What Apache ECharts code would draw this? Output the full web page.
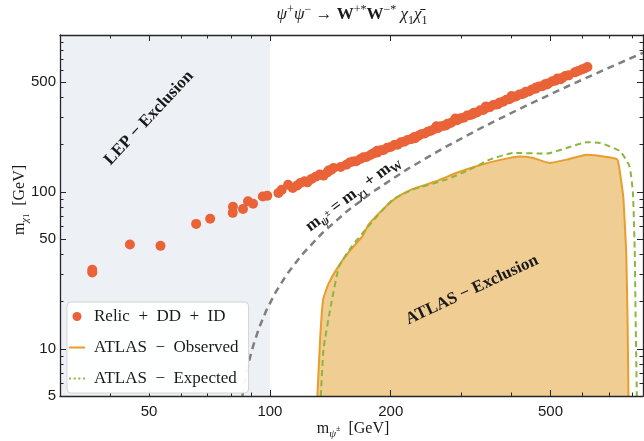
<!DOCTYPE html>
<html>
<head>
<meta charset="utf-8">
<script src="https://cdn.jsdelivr.net/npm/echarts@6/dist/echarts.min.js"></script>
<style>html,body{margin:0;padding:0;background:#fff}#chart{width:644px;height:441px}</style>
</head>
<body>
<div id="chart"></div>
<script>
// 坐标轴范围（GeV，对数轴）
const xRange = [30, 850];
const yRange = [5, 1000];
const lepRange = [30, 100];
const xMajor = [50, 100, 200, 500];
const xMinor = [40, 60, 70, 80, 90, 300, 400, 600, 700, 800];
const yMajor = [5, 10, 50, 100, 500];
const yMinor = [6, 7, 8, 9, 20, 30, 40, 60, 70, 80, 90, 200, 300, 400, 600, 700, 800, 900];

// Relic + DD + ID 散点 [m_psi, m_chi]
const relicPoints = [
  [36.1, 31.9], [36.1, 30.6], [44.8, 46.2], [53.4, 45.3], [65.5, 62.5], [71, 67.5],
  [80.8, 73.5], [80.9, 80.5], [85.7, 77.8], [88.2, 87], [90.8, 84], [96, 93.5], [98.5, 94.5],
  [105, 98.5], [107, 103], [111, 111], [114, 106], [117, 110], [119, 114], [122, 117],
  [124, 115], [127, 121], [130, 125], [133, 129], [136, 127], [139, 133], [140, 137],
  [142, 138], [144, 142], [150, 144], [155, 149], [158, 154], [161, 156], [164, 157],
  [168, 162], [171, 166], [174, 167], [178, 172], [181, 176], [185, 178], [185, 183],
  [189, 184], [192, 185], [196, 191], [200, 193], [204, 199], [208, 200], [212, 207],
  [216, 209], [220, 214], [225, 217], [229, 224], [230, 220], [234, 227], [238, 233],
  [243, 236], [248, 243], [252, 245], [257, 252], [260, 262], [262, 255], [267, 262],
  [272, 264], [275, 266], [277, 272], [282, 275], [288, 284], [290, 294], [293, 286],
  [299, 295], [304, 297], [310, 307], [316, 309], [320, 313], [322, 319], [328, 321],
  [334, 331], [340, 333], [345, 350], [347, 344], [353, 347], [360, 358], [367, 361],
  [370, 362], [374, 372], [381, 375], [388, 387], [395, 390], [400, 408], [403, 402],
  [410, 405], [418, 418], [426, 421], [430, 425], [434, 434], [442, 437], [450, 450],
  [459, 454], [460, 463], [468, 469], [477, 472], [486, 488], [490, 484], [495, 492],
  [505, 507], [514, 511], [520, 528], [524, 527], [530, 522], [534, 532], [544, 548],
  [555, 553], [575, 578], [586, 590], [598, 603], [608, 612], [618, 625]
];

// ATLAS 观测 / 预期 排除边界
const observed = [
  [131.3, 5], [133.5, 12], [135.7, 20.6], [140, 26], [147.3, 32.8], [158, 42], [170.1, 52.2],
  [176.1, 61.9], [190.9, 77.1], [206.2, 91.6], [226.9, 104.5], [259.4, 116.8], [291, 132],
  [336, 149], [375, 160], [419, 168], [450, 165], [498.3, 152.9], [548.7, 160.6],
  [615.6, 172.7], [690, 167.1], [734, 160.6], [753, 108.6], [760, 89.3], [772, 40.9],
  [778, 15], [782, 5]
];
const expected = [
  [133.9, 5], [136, 10], [141.8, 18.7], [148.8, 33.6], [160, 45], [174.8, 59.2],
  [202.2, 89.3], [226.9, 103.4], [275, 119.8], [314.5, 138.7], [352.8, 160.6],
  [403.5, 177.1], [489.1, 175.4], [548.7, 190.6], [615.6, 207], [664.4, 205.2],
  [745.6, 181.4], [786.6, 145.6], [802.2, 98.5], [810.5, 42.9], [815, 15], [820.5, 5]
];

// m_psi = m_chi + m_W
const kinematicLine = [
  [85.4, 5], [85.8, 5.4], [86.5, 6.1], [87.5, 7.1], [89, 8.6], [91, 10.6], [94, 13.6],
  [98, 17.6], [103, 22.6], [110, 29.6], [120, 39.6], [135, 54.6], [155, 74.6], [180, 99.6],
  [220, 139.6], [270, 189.6], [340, 259.6], [430, 349.6], [550, 469.6], [700, 619.6],
  [850, 769.6]
];

const lg = Math.log10;
const toLog = pts => pts.map(p => [lg(p[0]), lg(p[1])]);

const SERIF = '"Liberation Serif", "DejaVu Serif", serif';
const SANS = '"Liberation Sans", Arial, sans-serif';
const INK = '#1a1a1a';
const FRAME = '#262626';

// 上下标用的 rich 样式
const mathRich = (size, weight) => {
  const base = { fontFamily: SERIF, fontWeight: weight, fill: INK };
  const small = Math.round(size * 0.68);
  return {
    n: { ...base, fontSize: size },
    i: { ...base, fontSize: size, fontStyle: 'italic' },
    b: { ...base, fontSize: size, fontWeight: 'bold' },
    sp: { ...base, fontSize: small, verticalAlign: 'top' },
    sb: { ...base, fontSize: small, fontStyle: 'italic', verticalAlign: 'bottom' },
    sbu: { ...base, fontSize: small, verticalAlign: 'bottom' },
    sbs: { ...base, fontSize: Math.round(size * 0.5), verticalAlign: 'bottom' },
    sbm: { ...base, fontSize: Math.round(size * 0.5) }
  };
};

const mathText = (text, x, y, size, rotationDeg, weight = 'normal') => ({
  type: 'text',
  x, y,
  rotation: rotationDeg * Math.PI / 180,
  z: 100,
  silent: true,
  style: {
    text,
    rich: mathRich(size, weight),
    fontFamily: SERIF,
    fontSize: size,
    fontWeight: weight,
    lineHeight: size + 6,
    fill: INK,
    align: 'center',
    verticalAlign: 'middle',
    textAlign: 'center',
    textVerticalAlign: 'middle'
  }
});

// 四边框刻度轴
const frameAxis = (kind, position, range, ticks, len, showLine, labels) => ({
  type: 'value',
  position,
  z: 20,
  min: lg(range[0]),
  max: lg(range[1]),
  splitLine: { show: false },
  axisLine: { show: showLine, onZero: false, lineStyle: { color: FRAME, width: 1.3 } },
  axisTick: {
    show: true, inside: true, length: len,
    customValues: ticks.map(lg),
    lineStyle: { color: FRAME, width: 1 }
  },
  axisLabel: labels ? {
    show: true,
    customValues: ticks.map(lg),
    formatter: v => String(Math.round(Math.pow(10, v))),
    fontFamily: SANS,
    fontSize: 15,
    color: INK,
    margin: kind === 'x' ? 8 : 4
  } : { show: false }
});

const chart = echarts.init(document.getElementById('chart'), null, { renderer: 'canvas' });

const lineIcon = 'path://M0,0h16v2h-16z';
const dotIcon = 'path://M0,0h2v2h-2zM4.6,0h2v2h-2zM9.2,0h2v2h-2zM13.8,0h2v2h-2z';

const option = {
  animation: false,
  grid: { left: 60, right: 1, top: 35, bottom: 45, containLabel: false },
  xAxis: [
    frameAxis('x', 'bottom', xRange, xMajor, 6, true, true),
    frameAxis('x', 'bottom', xRange, xMinor, 3.5, false, false),
    frameAxis('x', 'top', xRange, xMajor, 6, true, false),
    frameAxis('x', 'top', xRange, xMinor, 3.5, false, false)
  ],
  yAxis: [
    frameAxis('y', 'left', yRange, yMajor, 6, true, true),
    frameAxis('y', 'left', yRange, yMinor, 3.5, false, false),
    frameAxis('y', 'right', yRange, yMajor, 6, true, false),
    frameAxis('y', 'right', yRange, yMinor, 3.5, false, false)
  ],
  legend: {
    orient: 'vertical',
    left: 67,
    top: 302,
    z: 30,
    itemWidth: 16,
    itemHeight: 9,
    itemGap: 12,
    padding: [5, 10, 5, 2],
    selectedMode: false,
    backgroundColor: 'rgba(255,255,255,0.95)',
    borderColor: '#d4d4d4',
    borderWidth: 1,
    borderRadius: 4,
    textStyle: { fontFamily: SERIF, fontSize: 17, color: INK, lineHeight: 19, padding: [0, 0, 0, 4] },
    data: [
      { name: 'Relic\u2002+\u2002DD\u2002+\u2002ID', icon: 'circle' },
      { name: 'ATLAS\u2002\u2212\u2002Observed', icon: lineIcon },
      { name: 'ATLAS\u2002\u2212\u2002Expected', icon: dotIcon }
    ]
  },
  series: [
    {
      name: 'ATLAS\u2002\u2212\u2002Observed',
      type: 'line',
      data: toLog(observed),
      symbol: 'none',
      smooth: 0.15,
      z: 2,
      lineStyle: { color: '#e89d2c', width: 2 },
      itemStyle: { color: '#e89d2c' },
      areaStyle: { color: '#f0cd93', opacity: 1, origin: 'start' }
    },
    {
      name: 'ATLAS\u2002\u2212\u2002Expected',
      type: 'line',
      data: toLog(expected),
      symbol: 'none',
      smooth: 0.15,
      z: 3,
      lineStyle: { color: '#8db63c', width: 2, type: [6, 4] },
      itemStyle: { color: '#8db63c' }
    },
    {
      name: 'kinematic',
      type: 'line',
      data: toLog(kinematicLine),
      symbol: 'none',
      z: 3,
      lineStyle: { color: '#7f7f7f', width: 2.5, type: [7, 5] },
      markArea: {
        silent: true,
        itemStyle: { color: '#edf0f5' },
        data: [[
          { xAxis: lg(lepRange[0]), yAxis: lg(yRange[0]) },
          { xAxis: lg(lepRange[1]), yAxis: lg(yRange[1]) }
        ]]
      }
    },
    {
      name: 'Relic\u2002+\u2002DD\u2002+\u2002ID',
      type: 'scatter',
      data: toLog(relicPoints),
      symbolSize: 10,
      z: 4,
      itemStyle: { color: '#ea6338', opacity: 1 }
    }
  ],
  graphic: [
    mathText('{i|ψ}{sp|+}{i|ψ}{sp|−}{n| → }{b|W}{sp|+*}{b|W}{sp|−*}{n| }{i|χ}{sbu|1}{i|χ̄}{sbu|1}', 352, 15, 17, 0),
    mathText('{n|m}{sb|ψ}{sbm|±}{n|  [GeV]}', 353, 429, 16, 0),
    mathText('{n|m}{sb|χ}{sbs|1}{n|  [GeV]}', 20, 200, 16, 90),
    mathText('{b|LEP − Exclusion}', 149, 118, 17, 47, 'bold'),
    mathText('{b|ATLAS − Exclusion}', 472, 290, 17, 25, 'bold'),
    mathText('{b|m}{sb|ψ}{sbm|±}{b| = m}{sb|χ}{sbs|1}{b| + m}{sbu|W}', 353, 194, 17, 37, 'bold')
  ]
};

chart.setOption(option);
</script>
</body>
</html>
